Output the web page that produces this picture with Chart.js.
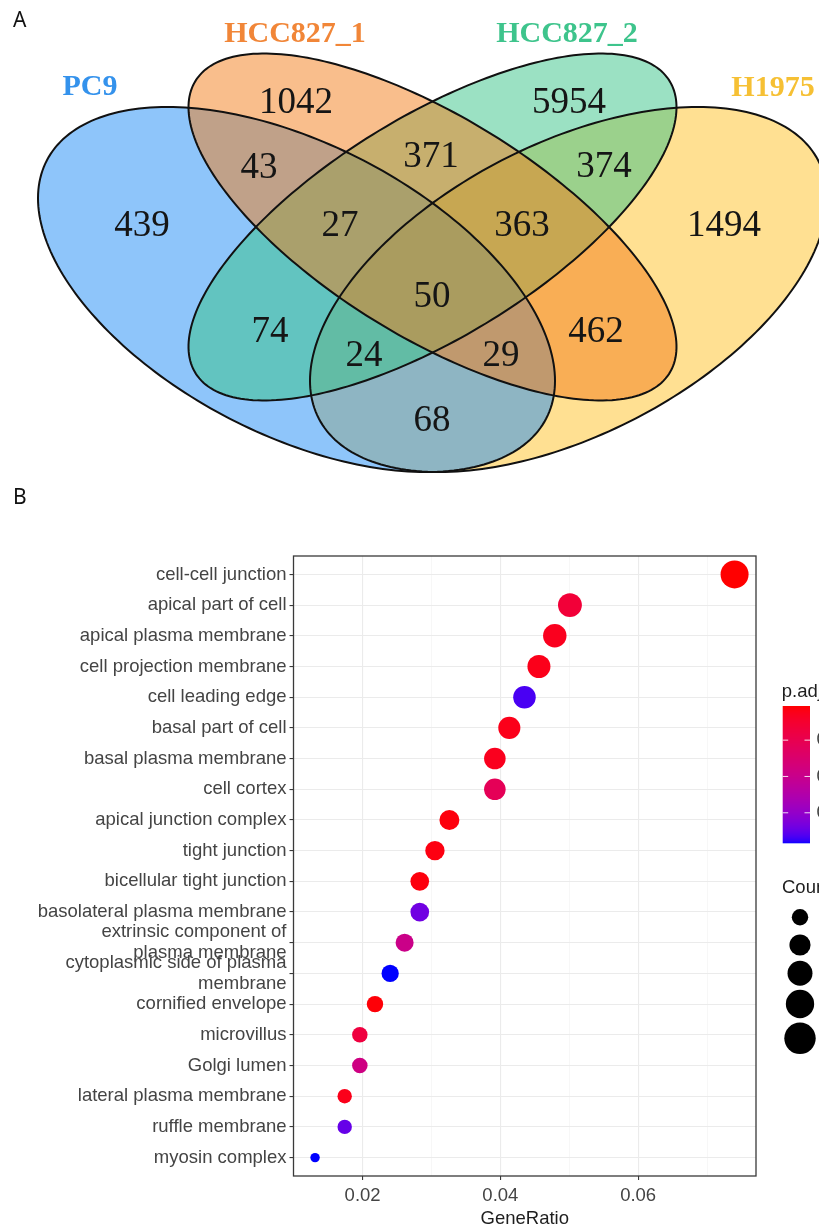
<!DOCTYPE html>
<html>
<head>
<meta charset="utf-8">
<script src="https://cdn.jsdelivr.net/npm/chart.js@4.4.1/dist/chart.umd.min.js"></script>
<style>
  html, body { margin:0; padding:0; background:#fff; }
  #wrap { position:relative; width:819px; height:1230px; overflow:hidden; }
  canvas { position:absolute; left:0; }
  #cVenn { top:0; width:819px; height:490px; }
  #cDot { top:490px; width:819px; height:740px; }
  .tag { position:absolute; font-family:'Noto Sans', sans-serif; font-size:21px; line-height:21px; color:#111; }
</style>
</head>
<body>
<div id="wrap">
  <canvas id="cVenn" width="819" height="490"></canvas>
  <canvas id="cDot" width="819" height="740"></canvas>
  <div class="tag" style="left:13px;top:9px">A</div>
  <div class="tag" style="left:13px;top:486px">B</div>
</div>
<script>
// ---- panel A : venn ----
const setNames = ['PC9', 'HCC827_1', 'HCC827_2', 'H1975'];
const regionKeys = [
  'PC9', 'HCC827_1', 'HCC827_2', 'H1975',
  'PC9&HCC827_1', 'HCC827_1&HCC827_2', 'HCC827_2&H1975',
  'PC9&HCC827_1&HCC827_2', 'HCC827_1&HCC827_2&H1975', 'PC9&HCC827_1&HCC827_2&H1975',
  'PC9&HCC827_2', 'HCC827_1&H1975', 'PC9&HCC827_2&H1975', 'PC9&HCC827_1&H1975', 'PC9&H1975'
];
const regionCounts = [439, 1042, 5954, 1494, 43, 371, 374, 27, 363, 50, 74, 462, 24, 29, 68];

// ---- panel B : GO cellular component dot plot ----
const goTerms = [
  'cell-cell junction', 'apical part of cell', 'apical plasma membrane', 'cell projection membrane',
  'cell leading edge', 'basal part of cell', 'basal plasma membrane', 'cell cortex',
  'apical junction complex', 'tight junction', 'bicellular tight junction', 'basolateral plasma membrane',
  'extrinsic component of\nplasma membrane', 'cytoplasmic side of plasma\nmembrane', 'cornified envelope',
  'microvillus', 'Golgi lumen', 'lateral plasma membrane', 'ruffle membrane', 'myosin complex'
];
const geneRatio = [0.0740, 0.0501, 0.0479, 0.0456, 0.0435, 0.0413, 0.0392, 0.0392, 0.0326, 0.0305,
                   0.0283, 0.0283, 0.0261, 0.0240, 0.0218, 0.0196, 0.0196, 0.0174, 0.0174, 0.0131];
const geneCount = [34, 23, 22, 21, 20, 19, 18, 18, 15, 14, 13, 13, 12, 11, 10, 9, 9, 8, 8, 6];
const pAdjust = [0.0006, 0.0063, 0.0029, 0.0025, 0.0366, 0.0025, 0.0029, 0.0112, 0.0014, 0.0017,
                 0.0014, 0.0339, 0.0195, 0.0384, 0.0010, 0.0074, 0.0184, 0.0025, 0.0348, 0.0384];
const xMajorTicks = [0.02, 0.04, 0.06];
const xGridValues = [0.01, 0.02, 0.03, 0.04, 0.05, 0.06, 0.07];
const padjTicks = [0.01, 0.02, 0.03];
const countBreaks = [10, 15, 20, 25, 30];

// layout / style for the venn (frame units = px of the panel)
const vennShapes = {
  'PC9':      { cx:296.5, cy:289.5, w:258.5, h:182.5, k:0.50, s: 1 },
  'HCC827_1': { cx:432.5, cy:227,   w:244,   h:173.5, k:0.69, s: 1 },
  'HCC827_2': { cx:432.5, cy:227,   w:244,   h:173.5, k:0.69, s:-1 },
  'H1975':    { cx:568.5, cy:289.5, w:258.5, h:182.5, k:0.50, s:-1 }
};
const setFill = { 'PC9':'rgb(30,140,245)', 'HCC827_1':'rgb(244,125,25)', 'HCC827_2':'rgb(56,196,136)', 'H1975':'rgb(255,193,37)' };
const setText = { 'PC9':'rgb(52,146,236)', 'HCC827_1':'rgb(241,134,56)', 'HCC827_2':'rgb(62,196,140)', 'H1975':'rgb(246,192,52)' };
const fillOrder = ['H1975', 'PC9', 'HCC827_2', 'HCC827_1'];
const setLabelPos = { 'PC9':[90,85], 'HCC827_1':[295,32], 'HCC827_2':[567,32], 'H1975':[773,86] };
const regionPos = {
  'PC9':[142,223], 'HCC827_1':[296,100], 'HCC827_2':[569,100], 'H1975':[724,223],
  'PC9&HCC827_1':[259,165], 'HCC827_1&HCC827_2':[431,154], 'HCC827_2&H1975':[604,164],
  'PC9&HCC827_1&HCC827_2':[340,223], 'HCC827_1&HCC827_2&H1975':[522,223], 'PC9&HCC827_1&HCC827_2&H1975':[432,294],
  'PC9&HCC827_2':[270,329], 'HCC827_1&H1975':[596,329], 'PC9&HCC827_2&H1975':[364,353],
  'PC9&HCC827_1&H1975':[501,353], 'PC9&H1975':[432,418]
};

function ellipsePoints(e){
  const A = Math.sqrt(1 + e.k), B = Math.sqrt(1 - e.k), pts = [];
  for(let i=0;i<240;i++){
    const t = i/240*Math.PI*2, p1 = A*Math.cos(t), p2 = B*Math.sin(t);
    const u = (p1 - e.s*p2)/Math.SQRT2, v = (e.s*p1 + p2)/Math.SQRT2;
    pts.push([e.cx + e.w*u, e.cy + e.h*v]);
  }
  return pts;
}

const vennPlugin = {
  id:'venn',
  beforeDatasetsDraw(chart){
    const {ctx, scales:{x, y}} = chart;
    const path = name => {
      ctx.beginPath();
      ellipsePoints(vennShapes[name]).forEach(([a,b],i)=>{
        const px = x.getPixelForValue(a), py = y.getPixelForValue(b);
        i ? ctx.lineTo(px,py) : ctx.moveTo(px,py);
      });
      ctx.closePath();
    };
    ctx.save();
    ctx.globalAlpha = 0.5;
    fillOrder.forEach(n=>{ path(n); ctx.fillStyle = setFill[n]; ctx.fill(); });
    ctx.globalAlpha = 1;
    ctx.lineWidth = 2; ctx.strokeStyle = '#111';
    setNames.forEach(n=>{ path(n); ctx.stroke(); });
    ctx.restore();
  },
  afterDatasetsDraw(chart){
    const ctx = chart.ctx;
    ctx.save();
    ctx.textAlign = 'center'; ctx.textBaseline = 'alphabetic';
    ctx.font = '37px "Liberation Serif", "Times New Roman", serif';
    ctx.fillStyle = '#151515';
    chart.getDatasetMeta(0).data.forEach((pt,i)=>{ ctx.fillText(String(regionCounts[i]), pt.x, pt.y + 12.5); });
    ctx.font = 'bold 30px "Liberation Serif", "Times New Roman", serif';
    chart.getDatasetMeta(1).data.forEach((pt,i)=>{ ctx.fillStyle = setText[setNames[i]]; ctx.fillText(setNames[i], pt.x, pt.y + 10); });
    ctx.restore();
  }
};

new Chart(document.getElementById('cVenn'), {
  type:'scatter',
  data:{ datasets:[
    { data: regionKeys.map(k=>({x:regionPos[k][0], y:regionPos[k][1]})), pointRadius:0 },
    { data: setNames.map(n=>({x:setLabelPos[n][0], y:setLabelPos[n][1]})), pointRadius:0 }
  ]},
  options:{
    responsive:false, animation:false, events:[],
    layout:{ padding:0 },
    plugins:{ legend:{display:false}, tooltip:{enabled:false} },
    scales:{
      x:{ type:'linear', min:0, max:819, display:false },
      y:{ type:'linear', min:0, max:490, reverse:true, display:false }
    }
  },
  plugins:[vennPlugin]
});

// ---- colour + size mapping for the dot plot ----
const WP = [0.95047, 1, 1.08883];
function toLin(c){ c/=255; return c<=0.04045 ? c/12.92 : Math.pow((c+0.055)/1.055, 2.4); }
function toSrgb(c){ c = c<=0.0031308 ? 12.92*c : 1.055*Math.pow(c,1/2.4)-0.055; return Math.round(Math.min(1,Math.max(0,c))*255); }
function rgb2lab(rgb){
  const [r,g,b] = rgb.map(toLin);
  const X=(0.4124564*r+0.3575761*g+0.1804375*b)/WP[0], Y=(0.2126729*r+0.7151522*g+0.0721750*b)/WP[1], Z=(0.0193339*r+0.1191920*g+0.9503041*b)/WP[2];
  const f = t => t>0.008856 ? Math.cbrt(t) : (7.787*t + 16/116);
  return [116*f(Y)-16, 500*(f(X)-f(Y)), 200*(f(Y)-f(Z))];
}
function lab2rgb([L,a,b]){
  const fy=(L+16)/116, fx=fy+a/500, fz=fy-b/200;
  const inv = t => { const t3=t*t*t; return t3>0.008856 ? t3 : (t-16/116)/7.787; };
  const X=inv(fx)*WP[0], Y=inv(fy)*WP[1], Z=inv(fz)*WP[2];
  return [toSrgb(3.2404542*X-1.5371385*Y-0.4985314*Z), toSrgb(-0.9692660*X+1.8760108*Y+0.0415560*Z), toSrgb(0.0556434*X-0.2040259*Y+1.0572252*Z)];
}
const labLow = rgb2lab([255,0,0]), labHigh = rgb2lab([0,0,255]);
const pMin = Math.min(...pAdjust), pMax = Math.max(...pAdjust);
function padjColor(p){
  const t = Math.min(1, Math.max(0, (p - pMin)/(pMax - pMin)));
  const c = lab2rgb(labLow.map((v,i)=>v + (labHigh[i]-v)*t));
  return `rgb(${c[0]},${c[1]},${c[2]})`;
}
const cMin = Math.min(...geneCount), cMax = Math.max(...geneCount);
function dotDiameter(c){ return 9.4 + 18.6*Math.sqrt(Math.max(0,(c - cMin)/(cMax - cMin))); }

const FONT = '"Liberation Sans", Arial, sans-serif';
const isMajor = v => xMajorTicks.some(m => Math.abs(m - v) < 1e-9);

const framePlugin = {
  id:'frame',
  afterDatasetsDraw(chart){
    const {ctx, chartArea:a} = chart;
    ctx.save(); ctx.strokeStyle = '#3a3a3a'; ctx.lineWidth = 1.3;
    ctx.strokeRect(a.left, a.top, a.right - a.left, a.bottom - a.top);
    ctx.restore();
  }
};

// legend boxes (px in the dot canvas)
const barBox = { left:782.7, right:810, top:216, bottom:353.3 };
const sizeKeyX = 800, sizeKeyY = [427.3, 455, 483.3, 514, 548.3];

const legendPlugin = {
  id:'guides',
  afterDraw(chart){
    const ctx = chart.ctx;
    ctx.save();
    ctx.font = `18.5px ${FONT}`; ctx.fillStyle = '#1e1e1e';
    ctx.textAlign = 'left'; ctx.textBaseline = 'middle';
    ctx.fillText('p.adjust', 781.7, 202);
    const h = barBox.bottom - barBox.top;
    for(let i=0;i<Math.ceil(h);i++){
      const p = pMin + (i + 0.5)/h*(pMax - pMin);
      ctx.fillStyle = padjColor(p);
      ctx.fillRect(barBox.left, barBox.top + i, barBox.right - barBox.left, Math.min(1, h - i));
    }
    ctx.strokeStyle = 'rgba(255,255,255,0.85)'; ctx.lineWidth = 1;
    padjTicks.forEach(v=>{
      const yy = barBox.top + (v - pMin)/(pMax - pMin)*h;
      ctx.beginPath();
      ctx.moveTo(barBox.left, yy); ctx.lineTo(barBox.left + 5.5, yy);
      ctx.moveTo(barBox.right - 5.5, yy); ctx.lineTo(barBox.right, yy);
      ctx.stroke();
      ctx.fillStyle = '#444';
      ctx.fillText(v.toFixed(2), 816.5, yy);
    });
    ctx.fillStyle = '#1e1e1e';
    ctx.fillText('Count', 782, 398);
    ctx.fillStyle = '#000';
    countBreaks.forEach((c,i)=>{
      ctx.beginPath(); ctx.arc(sizeKeyX, sizeKeyY[i], dotDiameter(c)/2 + 0.6*i, 0, Math.PI*2); ctx.fill();
    });
    ctx.restore();
  }
};

new Chart(document.getElementById('cDot'), {
  type:'scatter',
  data:{ datasets:[{
    data: goTerms.map((t,i)=>({x:geneRatio[i], y:i})),
    pointRadius: c => dotDiameter(geneCount[c.dataIndex])/2,
    pointHoverRadius: c => dotDiameter(geneCount[c.dataIndex])/2,
    backgroundColor: c => padjColor(pAdjust[c.dataIndex]),
    borderWidth:0
  }]},
  options:{
    responsive:false, animation:false, events:[],
    layout:{ padding:{ left:0, right:63, top:66, bottom:0 } },
    plugins:{ legend:{display:false}, tooltip:{enabled:false} },
    scales:{
      x:{
        type:'linear', min:0.00997, max:0.07711,
        afterBuildTicks: s => { s.ticks = xGridValues.map(v=>({value:v})); },
        afterFit: s => { s.height = 54; },
        ticks:{ autoSkip:false, maxRotation:0, padding:5, color:'#444', font:{family:FONT, size:18.5},
                callback: v => isMajor(v) ? v.toFixed(2) : '' },
        grid:{ color: c => isMajor(c.tick.value) ? '#EBEBEB' : '#F4F4F4',
               lineWidth: c => isMajor(c.tick.value) ? 1.1 : 0.7,
               tickColor: c => isMajor(c.tick.value) ? '#3a3a3a' : 'rgba(0,0,0,0)',
               tickLength:4, tickWidth:1.1 },
        border:{ display:false },
        title:{ display:true, text:'GeneRatio', color:'#1e1e1e', font:{family:FONT, size:18.5}, padding:{top:0, bottom:0} }
      },
      y:{
        type:'linear', min:-0.6, max:19.6, reverse:true,
        afterBuildTicks: s => { s.ticks = goTerms.map((t,i)=>({value:i})); },
        afterFit: s => { s.width = 293.5; },
        ticks:{ autoSkip:false, padding:3, color:'#444', font:{family:FONT, size:18.5, lineHeight:1.13},
                callback: v => goTerms[v] ? goTerms[v].split('\n') : '' },
        grid:{ color:'#EBEBEB', lineWidth:1.1, tickColor:'#3a3a3a', tickLength:4, tickWidth:1.1 },
        border:{ display:false }
      }
    }
  },
  plugins:[framePlugin, legendPlugin]
});
</script>
</body>
</html>
